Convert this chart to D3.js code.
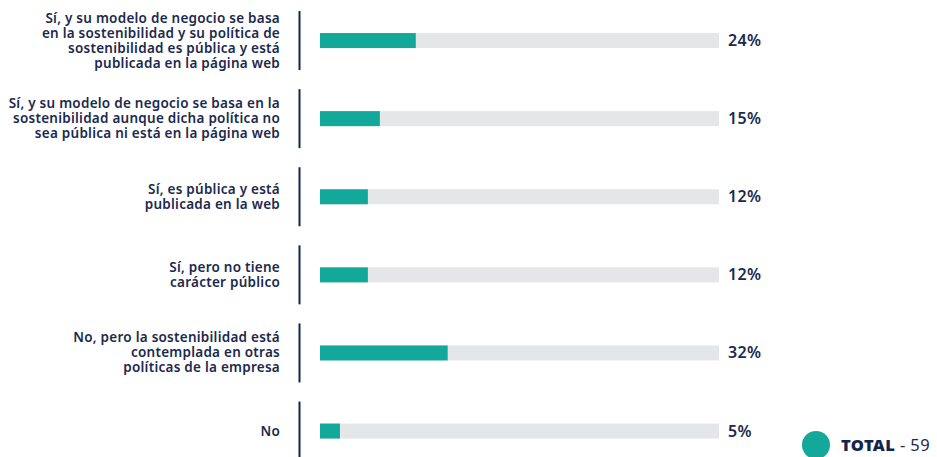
<!DOCTYPE html>
<html>
<head>
<meta charset="utf-8">
<script src="https://cdn.jsdelivr.net/npm/d3@7"></script>
<style>
  body { margin: 0; background: #ffffff; }
  .rowLabel { font-family: "Noto Sans", sans-serif; font-size: 13.5px; font-weight: 600; letter-spacing: 0.25px; fill: #1b2a4e; }
  .valLabel { font-family: "Noto Sans", sans-serif; font-size: 16px; font-weight: 600; letter-spacing: 0.4px; fill: #1b2a4e; }
</style>
</head>
<body>
<div id="chart"></div>
<script>
var width = 937;
var height = 457;

// Data
var categories = [
  ["Sí, y su modelo de negocio se basa", "en la sostenibilidad y su política de", "sostenibilidad es pública y está", "publicada en la página web"],
  ["Sí, y su modelo de negocio se basa en la", "sostenibilidad aunque dicha política no", "sea pública ni está en la página web"],
  ["Sí, es pública y está", "publicada en la web"],
  ["Sí, pero no tiene", "carácter público"],
  ["No, pero la sostenibilidad está", "contemplada en otras", "políticas de la empresa"],
  ["No"]
];
var values = [24, 15, 12, 12, 32, 5];
var totalLabel = "TOTAL";
var totalValue = 59;

var teal = "#12a89a";
var track = "#e5e6e8";
var navy = "#13254b";

var svg = d3.select("#chart")
  .append("svg")
  .attr("width", width)
  .attr("height", height);

var idx = d3.range(values.length);

var yScale = d3.scaleBand()
  .domain(idx)
  .range([1.5, 1.5 + 78.1 * values.length])
  .padding(0);

var xScale = d3.scaleLinear()
  .domain([0, 100])
  .range([320, 719]);

var barH = 15;
var lineH = 15;

var rows = svg.selectAll("g.row")
  .data(idx)
  .enter()
  .append("g")
  .attr("class", "row")
  .attr("transform", function(i) {
    return "translate(0," + (yScale(i) + yScale.bandwidth() / 2) + ")";
  });

// divider line
rows.append("line")
  .attr("x1", 299.5)
  .attr("x2", 299.5)
  .attr("y1", -29.5)
  .attr("y2", 29.5)
  .attr("stroke", navy)
  .attr("stroke-width", 2);

// background track
rows.append("rect")
  .attr("x", xScale(0))
  .attr("y", -barH / 2)
  .attr("width", xScale(100) - xScale(0))
  .attr("height", barH)
  .attr("fill", track);

// value bar
rows.append("rect")
  .attr("x", xScale(0))
  .attr("y", -barH / 2)
  .attr("width", function(i) { return xScale(values[i]) - xScale(0); })
  .attr("height", barH)
  .attr("fill", teal);

// value label
rows.append("text")
  .attr("class", "valLabel")
  .attr("x", 728)
  .attr("y", 5.5)
  .text(function(i) { return values[i] + "%"; });

// category label (multi-line, centered on bar)
rows.append("text")
  .attr("class", "rowLabel")
  .attr("text-anchor", "end")
  .each(function(i) {
    var lines = categories[i];
    var t = d3.select(this);
    var start = -(lines.length - 1) * lineH / 2;
    lines.forEach(function(l, k) {
      t.append("tspan")
        .attr("x", 280)
        .attr("y", start + k * lineH + 4.5)
        .text(l);
    });
  });

// legend
var legend = svg.append("g").attr("class", "legend");
legend.append("circle")
  .attr("cx", 816)
  .attr("cy", 445)
  .attr("r", 14)
  .attr("fill", teal);
var lt = legend.append("text")
  .attr("x", 841)
  .attr("y", 451)
  .style("font-family", "'Noto Sans', sans-serif")
  .style("font-size", "16.5px")
  .style("letter-spacing", "0.4px")
  .attr("fill", navy);
lt.append("tspan").style("font-weight", 900).text(totalLabel);
lt.append("tspan").style("font-weight", 400).attr("fill", "#1b2a4e").text(" - " + totalValue);
</script>
</body>
</html>
